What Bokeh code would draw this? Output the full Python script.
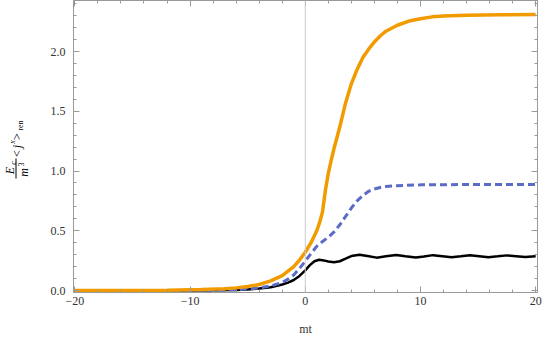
import math
from bokeh.plotting import figure
from bokeh.layouts import row
from bokeh.models import FixedTicker, LinearAxis, Span, Range1d
from bokeh.core.properties import value
from bokeh.embed import file_html
from bokeh.resources import INLINE

# ---- data ----
orange_x = [-20, -12, -9, -7, -6, -5, -4, -3, -2, -1, -0.5, 0, 0.5, 1, 1.25, 1.5, 1.75, 2, 2.25, 2.5,
            3, 3.5, 4, 4.5, 5, 5.5, 6, 6.5, 7, 8, 9, 10, 11, 12, 14, 17, 20]
orange_y = [0, 0.003, 0.008, 0.015, 0.022, 0.033, 0.05, 0.08, 0.125, 0.2, 0.255, 0.32, 0.4, 0.5, 0.57, 0.66, 0.84, 0.98, 1.09, 1.19,
            1.37, 1.57, 1.73, 1.85, 1.95, 2.02, 2.08, 2.13, 2.17, 2.22, 2.255, 2.275, 2.29, 2.297, 2.303, 2.307, 2.31]

blue_x = [-20, -10, -8, -6, -5, -4, -3, -2, -1.5, -1, -0.5, 0, 0.5, 1, 1.5, 2, 2.5, 3, 3.5, 4, 4.5,
          5, 5.5, 6, 6.5, 7, 8, 10, 14, 20]
blue_y = [0, 0.001, 0.003, 0.007, 0.012, 0.022, 0.038, 0.068, 0.095, 0.13, 0.185, 0.245, 0.31, 0.37, 0.41, 0.445, 0.49, 0.55, 0.62, 0.69, 0.75,
          0.795, 0.83, 0.85, 0.862, 0.87, 0.877, 0.884, 0.887, 0.887]

black_x = [-20, -10, -8, -6, -5, -4, -3, -2, -1.5, -1, -0.5, 0, 0.4, 0.8, 1.2, 1.6, 2.0, 2.5, 3.0, 3.5, 4.0,
           4.7, 5.4, 6.2, 7.0, 7.9, 8.7, 9.6, 10.3, 11.1, 11.9, 12.7, 13.5, 14.3, 15.1, 15.9, 16.7, 17.5, 18.3, 19.1, 20]
black_y = [0, 0.001, 0.002, 0.005, 0.009, 0.016, 0.028, 0.05, 0.066, 0.088, 0.122, 0.168, 0.212, 0.245, 0.257, 0.252, 0.243, 0.236, 0.245, 0.266, 0.288,
           0.3, 0.289, 0.275, 0.287, 0.298, 0.287, 0.276, 0.285, 0.296, 0.287, 0.278, 0.286, 0.295, 0.287, 0.279, 0.286, 0.294, 0.287, 0.28, 0.287]

x_ticks = [-20, -10, 0, 10, 20]
x_tick_labels = ["\u221220", "\u221210", "0", "10", "20"]
x_minor = [-20, -18, -16, -14, -12, -10, -8, -6, -4, -2, 0, 2, 4, 6, 8, 10, 12, 14, 16, 18, 20]
y_ticks = [0, 0.5, 1.0, 1.5, 2.0]
y_tick_labels = ["0.0", "0.5", "1.0", "1.5", "2.0"]
y_minor = [round(0.1 * i, 1) for i in range(0, 25)]

x_label = "mt"

# y-axis title pieces: E_c / m^3 <j^x>_ren
title_main = ["E", "m", "<", "j", ">"]
title_small = ["c", "3", "x", "ren"]

FRAME = "#999999"
TXT = "#333333"
H = 338
BOTTOM = 46          # space below the frame
FH = H - BOTTOM      # frame height (page y 0..292)
TW = 30              # width of the y-title strip
SERIF = "Liberation Serif"

# ---------------- y-title strip ----------------
t = figure(width=TW, height=H, output_backend="svg", toolbar_location=None, title=None,
           x_range=Range1d(0, TW), y_range=Range1d(FH, 0),
           min_border_left=0, min_border_right=0, min_border_top=0, min_border_bottom=BOTTOM,
           x_axis_location=None, y_axis_location=None)
t.grid.visible = False
t.outline_line_color = None
t.border_fill_color = "white"

rot = math.pi / 2
SER = value(SERIF)
t.text(x=[9.5, 23.5, 16.5], y=[170, 172, 146], text=[title_main[0], title_main[1], title_main[3]],
       angle=rot, text_align="center", text_baseline="middle",
       text_font=SER, text_font_size="12px", text_font_style="italic", text_color="black")
t.text(x=[16.5, 16.5], y=[153, 136], text=[title_main[2], title_main[4]],
       angle=rot, text_align="center", text_baseline="middle",
       text_font=SER, text_font_size="12px", text_color="black")
t.text(x=[13, 11.5], y=[162.5, 141.5], text=[title_small[0], title_small[2]],
       angle=rot, text_align="center", text_baseline="middle",
       text_font=SER, text_font_size="8px", text_font_style="italic", text_color="black")
t.text(x=[20, 20], y=[164, 125], text=[title_small[1], title_small[3]],
       angle=rot, text_align="center", text_baseline="middle",
       text_font=SER, text_font_size="8px", text_color="black")
t.segment(x0=[15.5], y0=[158], x1=[15.5], y1=[178], line_color="black", line_width=1)

# ---------------- main plot ----------------
p = figure(width=545 - TW, height=H, output_backend="svg", toolbar_location=None, title=None,
           x_range=Range1d(-20.12, 20.16), y_range=Range1d(-0.0167, 2.427),
           min_border_left=73 - TW, min_border_right=8, min_border_top=0, min_border_bottom=BOTTOM,
           x_axis_location=None, y_axis_location=None)
p.grid.visible = False
p.outline_line_color = FRAME
p.background_fill_color = "white"
p.border_fill_color = "white"

xt = FixedTicker(ticks=x_ticks, minor_ticks=x_minor)
yt = FixedTicker(ticks=y_ticks, minor_ticks=y_minor)


def style(ax, show_labels):
    ax.axis_line_color = FRAME
    ax.major_tick_line_color = FRAME
    ax.minor_tick_line_color = FRAME
    ax.major_tick_in = 6
    ax.major_tick_out = 0
    ax.minor_tick_in = 3
    ax.minor_tick_out = 0
    ax.major_label_text_font = SERIF
    ax.major_label_text_color = TXT if show_labels else None
    ax.major_label_text_font_size = "12px" if show_labels else "1px"
    if not show_labels:
        ax.major_label_standoff = 0


bottom = LinearAxis(ticker=xt, major_label_overrides=dict(zip(x_ticks, x_tick_labels)))
style(bottom, True)
bottom.major_label_standoff = 4
bottom.axis_label = x_label
bottom.axis_label_text_font = SERIF
bottom.axis_label_text_font_style = "normal"
bottom.axis_label_text_font_size = "12px"
bottom.axis_label_text_color = TXT
bottom.axis_label_standoff = 14
p.add_layout(bottom, "below")

left = LinearAxis(ticker=yt, major_label_overrides=dict(zip(y_ticks, y_tick_labels)))
style(left, True)
left.major_label_standoff = 8
p.add_layout(left, "left")

top = LinearAxis(ticker=xt)
style(top, False)
p.add_layout(top, "above")

right = LinearAxis(ticker=yt)
style(right, False)
p.add_layout(right, "right")

p.add_layout(Span(location=0, dimension="height", line_color="#cccccc", line_width=1))

p.line(black_x, black_y, line_color="black", line_width=2.5)
p.line(blue_x, blue_y, line_color="#5b6bc8", line_width=3, line_dash="7 4")
p.line(orange_x, orange_y, line_color="#f29b00", line_width=3.5)

layout = row(t, p)
open("out.html", "w").write(file_html(layout, INLINE))
